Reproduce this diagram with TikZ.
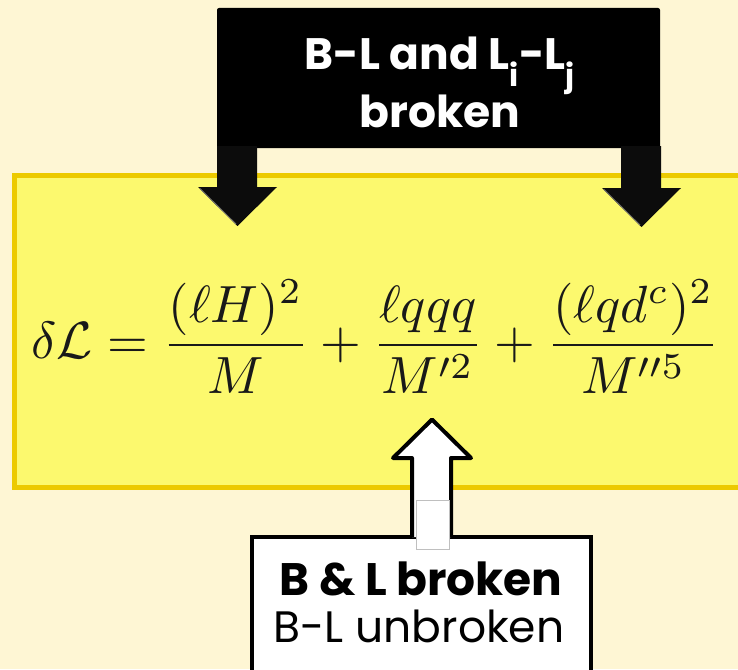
\documentclass[tikz,border=0pt]{standalone}
\usepackage{fontspec}
\usepackage{graphicx}
\newfontfamily\gothic{Poppins}
\definecolor{bgcream}{RGB}{254,246,212}
\definecolor{panelyellow}{RGB}{252,249,110}
\definecolor{panelborder}{RGB}{236,202,0}
\definecolor{arrowblack}{RGB}{12,12,12}
\tikzset{
  panelbox/.style={draw=panelborder, fill=panelyellow, line width=5pt, inner sep=0pt},
  darkbox/.style={fill=black, rounded corners=2pt, inner sep=0pt},
  whitebox/.style={draw=black, fill=white, line width=4pt, inner sep=0pt},
  blockdown/.style={fill=arrowblack},
  blockup/.style={draw=black, fill=white, line width=4pt, line join=round},
  toptext/.style={text=white, font=\gothic\bfseries\fontsize{44}{44}\selectfont, inner sep=0pt, anchor=base},
  boldtext/.style={text=black, font=\gothic\bfseries\fontsize{45.5}{46}\selectfont, inner sep=0pt, anchor=base},
  plaintext/.style={text=black, font=\gothic\fontsize{44}{44}\selectfont, inner sep=0pt, anchor=base},
}
\begin{document}
\begin{tikzpicture}[x=1pt, y=-1pt]
\fill[bgcream] (0,0) rectangle (738,669);
\useasboundingbox (0,0) rectangle (738,669);

% yellow panel
\node[panelbox, minimum width=730.5pt, minimum height=312pt] (panel) at (379.75,331.5) {};

% equation
\node[anchor=west, inner sep=0pt, text=black!90] (eq) at (31,337)
  {\resizebox{688pt}{!}{$\displaystyle \delta\mathcal{L}=\frac{(\ell H)^2}{M}+\frac{\ell qqq}{M'^2}+\frac{(\ell q d^c)^2}{M''^5}$}};

% top black box
\node[darkbox, minimum width=443pt, minimum height=140pt] (top) at (438.5,78) {};
\node[toptext] (t1) at (440,70) {B-L and L\textsubscript{i}-L\textsubscript{j}};
\node[toptext] (t2) at (440,127) {broken};

% down arrows
\fill[blockdown] (217,146) -- (257,146) -- (257,187) -- (277,187) -- (237.5,226) -- (198,187) -- (217,187) -- cycle;
\fill[blockdown] (621,146) -- (661,146) -- (661,188) -- (681,188) -- (641.5,227) -- (602,188) -- (621,188) -- cycle;
\draw[white!45!black, line width=0.8pt] (200,188.5) -- (236,224);
\draw[white!45!black, line width=0.8pt] (604,189.5) -- (640,225);

% bottom white box
\node[whitebox, minimum width=339pt, minimum height=163pt] (bottom) at (421.5,618.5) {};
\node[boldtext] (b1) at (421,595) {B \& L broken};
\node[plaintext] (b2) at (419,642) {B-L unbroken};

% up arrow
\filldraw[blockup] (412,537) -- (412,458) -- (393,458) -- (432,419.5) -- (471,458) -- (451,458) -- (451,537);
\filldraw[fill=white, draw=black!25, line width=0.5pt] (416,500) rectangle (449,549);
\end{tikzpicture}
\end{document}
